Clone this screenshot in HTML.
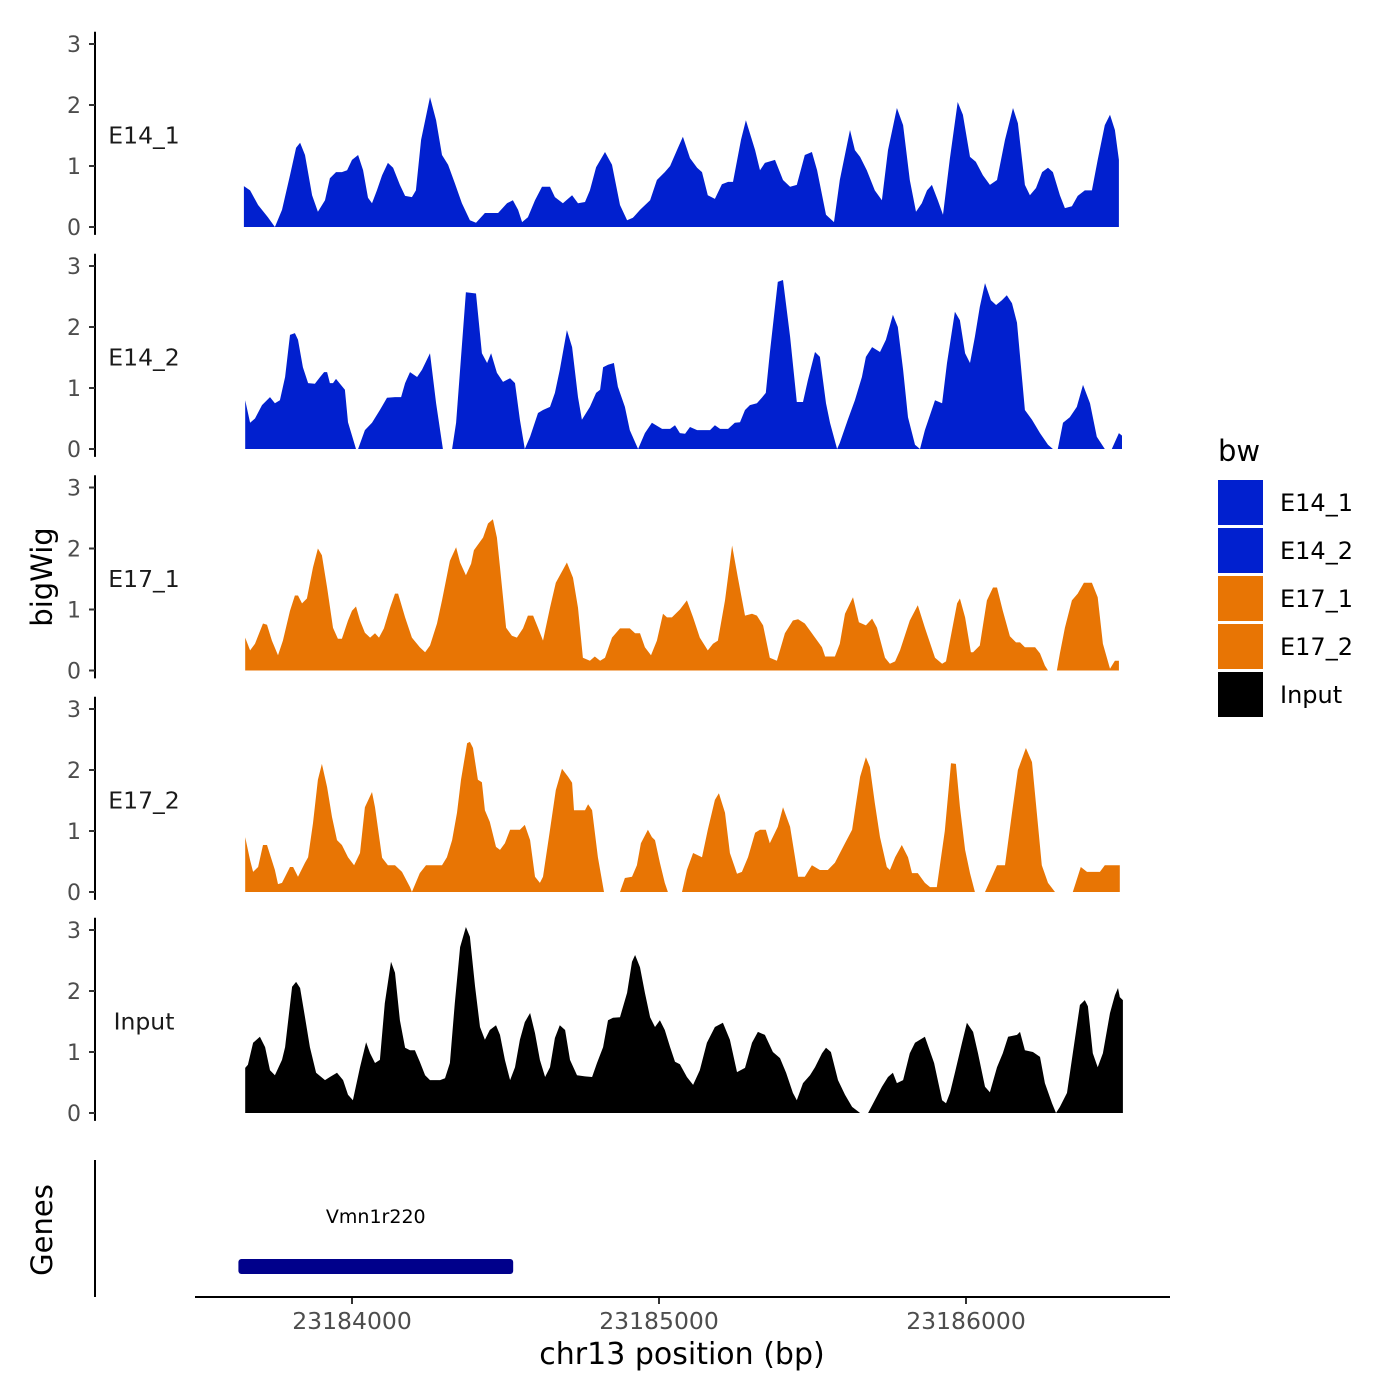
<!DOCTYPE html>
<html><head><meta charset="utf-8"><style>
html,body{margin:0;padding:0;background:#fff;}
svg{display:block;font-family:"DejaVu Sans","Liberation Sans",sans-serif;}
</style></head><body>
<svg id="chart" width="1400" height="1400" viewBox="0 0 1400 1400" xmlns="http://www.w3.org/2000/svg">
<rect width="1400" height="1400" fill="#fff"/>
<g id="tracks"></g>
<g id="axes"></g>
<text x="0" y="0" transform="translate(52,577) rotate(-90)" text-anchor="middle" font-size="29" fill="#000">bigWig</text>
<text x="0" y="0" transform="translate(52,1230) rotate(-90)" text-anchor="middle" font-size="29" fill="#000">Genes</text>
<line x1="95" y1="1160" x2="95" y2="1297" stroke="#000" stroke-width="2"/>
<g id="genes"></g>
<line x1="195" y1="1297" x2="1170" y2="1297" stroke="#000" stroke-width="2"/>
<text x="682" y="1364" text-anchor="middle" font-size="30" fill="#000">chr13 position (bp)</text>
<g id="legend">
<text x="1218" y="461" font-size="29" fill="#000">bw</text>
</g>
</svg>
<script>
// positions: bp relative to 23,184,000
const pos1=[-352,-332,-306,-274,-251,-228,-202,-182,-169,-153,-130,-111,-88,-72,-52,-33,-16,0,20,36,52,65,81,98,117,134,156,173,195,208,225,254,274,293,313,335,358,384,404,433,476,505,524,541,554,573,596,619,645,661,687,717,736,759,775,795,824,847,873,896,915,938,971,993,1019,1036,1062,1078,1101,1124,1140,1159,1182,1205,1225,1241,1267,1283,1313,1329,1345,1378,1404,1427,1449,1475,1498,1515,1544,1570,1589,1622,1638,1655,1677,1703,1726,1746,1775,1795,1817,1837,1856,1873,1889,1908,1925,1947,1973,1990,2013,2032,2055,2078,2101,2127,2153,2169,2192,2208,2228,2248,2267,2283,2306,2322,2345,2364,2387,2410,2429,2452,2469,2485,2498];
const val1=[.67,.6,.36,.16,0,.28,.85,1.3,1.38,1.18,.52,.25,.44,.8,.9,.9,.93,1.1,1.18,.93,.48,.39,.6,.85,1.05,.97,.69,.51,.49,.6,1.43,2.13,1.75,1.18,1.02,.72,.39,.11,.07,.23,.23,.39,.44,.28,.08,.16,.44,.66,.66,.49,.39,.52,.39,.41,.6,.98,1.23,1.02,.36,.11,.15,.28,.44,.77,.9,1.0,1.3,1.48,1.13,.97,.9,.52,.46,.7,.74,.74,1.43,1.75,1.26,.93,1.05,1.1,.77,.66,.69,1.18,1.23,.93,.2,.08,.77,1.59,1.26,1.15,.93,.6,.44,1.26,1.95,1.67,.77,.25,.39,.6,.69,.44,.2,1.1,2.05,1.84,1.15,1.07,.85,.69,.77,1.43,1.95,1.7,.69,.52,.64,.9,.97,.9,.52,.31,.34,.51,.6,.6,1.1,1.67,1.84,1.59,1.1];
const pos2=[-348,-332,-316,-293,-267,-251,-235,-218,-202,-186,-176,-160,-143,-121,-104,-91,-81,-72,-62,-52,-36,-23,-13,13,20,42,65,91,114,140,160,173,189,212,228,254,274,296,326,339,371,404,423,440,453,472,492,515,531,547,563,580,606,622,645,661,677,700,717,736,749,775,795,808,818,834,853,866,889,905,932,954,977,987,1010,1036,1052,1068,1085,1101,1124,1166,1182,1199,1225,1247,1264,1280,1296,1319,1335,1348,1361,1387,1404,1427,1449,1469,1485,1508,1524,1544,1557,1580,1589,1615,1638,1661,1674,1694,1720,1739,1762,1778,1795,1811,1834,1850,1866,1899,1922,1938,1964,1980,1997,2013,2029,2045,2062,2081,2098,2117,2133,2150,2166,2192,2215,2241,2267,2283,2299,2316,2338,2361,2381,2404,2426,2452,2475,2498,2508];
const val2=[.8,.43,.5,.72,.85,.75,.8,1.18,1.87,1.9,1.79,1.34,1.08,1.07,1.18,1.26,1.26,1.08,1.08,1.15,1.05,.97,.44,0,0,.31,.43,.64,.84,.85,.85,1.08,1.26,1.18,1.3,1.57,.75,0,0,.43,2.57,2.55,1.57,1.41,1.57,1.25,1.1,1.16,1.08,.48,0,.2,.59,.64,.69,.92,1.3,1.95,1.67,.85,.48,.69,.92,.97,1.34,1.38,1.41,1.02,.69,.31,0,.26,.43,.4,.33,.33,.39,.26,.25,.36,.31,.31,.39,.33,.33,.43,.44,.64,.72,.75,.84,.92,1.57,2.74,2.77,1.84,.77,.77,1.13,1.59,1.51,.75,.43,0,.1,.48,.8,1.18,1.51,1.67,1.59,1.79,2.2,2.0,1.3,.52,.07,0,.31,.8,.75,1.41,2.25,2.11,1.57,1.41,1.84,2.33,2.72,2.44,2.36,2.44,2.52,2.39,2.07,.64,.48,.26,.07,0,0,.43,.52,.69,1.05,.75,.2,0,0,.26,.22];
const pos3=[-348,-332,-316,-290,-277,-261,-241,-225,-202,-186,-176,-163,-147,-127,-111,-98,-81,-62,-46,-33,-13,0,13,26,42,59,75,88,104,124,140,150,173,195,221,238,254,277,293,319,339,352,371,388,397,427,443,459,472,482,502,521,537,557,573,590,606,622,645,664,700,720,736,752,775,791,808,824,847,873,905,922,938,954,974,993,1013,1026,1042,1068,1091,1111,1133,1159,1176,1192,1215,1238,1257,1280,1303,1319,1339,1361,1384,1410,1436,1453,1475,1498,1531,1541,1573,1589,1606,1632,1651,1674,1694,1710,1736,1752,1769,1785,1817,1843,1866,1899,1922,1935,1948,1971,1980,1997,2016,2023,2045,2068,2088,2101,2120,2143,2163,2176,2192,2225,2241,2257,2267,2296,2306,2322,2345,2364,2384,2410,2429,2446,2469,2485,2498];
const val3=[.54,.33,.44,.77,.75,.49,.25,.49,.98,1.23,1.23,1.1,1.18,1.69,2.0,1.89,1.36,.7,.52,.52,.82,.98,1.05,.82,.62,.54,.61,.54,.69,1.03,1.26,1.26,.87,.54,.38,.3,.41,.77,1.15,1.8,2.02,1.77,1.56,1.75,1.97,2.18,2.41,2.48,2.18,1.69,.7,.57,.54,.69,.9,.9,.7,.49,1.03,1.44,1.77,1.52,1.03,.21,.16,.23,.16,.21,.54,.69,.69,.61,.61,.38,.25,.49,.93,.87,.87,1.0,1.15,.87,.54,.33,.44,.49,1.15,2.05,1.52,.9,.93,.9,.74,.21,.16,.61,.82,.84,.77,.61,.38,.23,.23,.44,.93,1.2,.79,.74,.85,.7,.21,.11,.15,.33,.82,1.07,.7,.21,.11,.15,.49,1.1,1.18,.87,.3,.3,.41,1.15,1.36,1.36,.98,.56,.46,.46,.38,.38,.28,.08,0,0,.28,.7,1.15,1.26,1.44,1.44,1.2,.44,.03,.16,.16];
const pos4=[-348,-332,-322,-306,-290,-277,-251,-241,-228,-202,-192,-176,-153,-143,-127,-111,-98,-81,-65,-49,-33,-13,7,26,42,65,75,98,117,140,163,189,195,221,241,293,309,326,342,355,375,384,394,410,423,433,449,469,482,498,515,547,563,580,596,612,622,645,664,684,704,717,723,759,769,782,801,821,873,889,912,928,941,964,977,987,1003,1019,1029,1075,1091,1111,1140,1159,1182,1195,1215,1231,1254,1270,1290,1313,1329,1348,1361,1387,1404,1427,1443,1453,1475,1498,1524,1550,1573,1606,1629,1642,1655,1674,1687,1703,1720,1742,1752,1769,1791,1811,1824,1843,1866,1883,1905,1931,1951,1967,1980,1997,2013,2029,2062,2101,2127,2150,2169,2195,2215,2234,2247,2267,2290,2348,2374,2394,2436,2452,2495,2501];
const val4=[.9,.52,.33,.41,.77,.77,.36,.13,.15,.41,.41,.25,.48,.57,1.13,1.84,2.1,1.72,1.23,.85,.77,.57,.44,.64,1.39,1.64,1.39,.56,.44,.44,.33,.08,0,.31,.44,.44,.57,.85,1.3,1.84,2.44,2.46,2.36,1.84,1.8,1.34,1.15,.74,.69,.8,1.02,1.02,1.1,.85,.25,.15,.25,1.02,1.67,2.02,1.89,1.79,1.34,1.34,1.44,1.34,.57,0,0,.23,.25,.44,.8,1.02,.9,.85,.48,.15,0,0,.36,.64,.57,1.02,1.51,1.62,1.3,.64,.3,.33,.57,.97,1.02,1.02,.8,1.07,1.39,1.07,.57,.25,.25,.44,.36,.36,.48,.8,1.02,1.46,1.89,2.21,2.05,1.46,.9,.41,.36,.57,.77,.57,.31,.31,.15,.08,.08,1.0,2.11,2.1,1.4,.69,.31,0,0,.44,.44,1.3,2.0,2.36,2.13,1.13,.44,.15,0,0,.41,.33,.33,.44,.44,.44];
const pos5=[-348,-339,-322,-300,-283,-267,-251,-228,-218,-195,-182,-169,-153,-137,-117,-88,-72,-49,-29,-13,3,26,46,59,75,91,107,127,140,156,173,189,205,221,238,254,287,303,319,335,352,371,384,401,417,433,449,469,482,498,515,531,547,563,580,596,612,629,645,661,677,694,710,733,759,782,798,818,834,850,873,896,912,922,938,954,971,987,1003,1019,1036,1052,1068,1091,1111,1133,1156,1182,1208,1231,1254,1280,1303,1322,1345,1371,1394,1414,1436,1449,1469,1492,1508,1531,1544,1560,1583,1606,1629,1655,1681,1703,1726,1746,1762,1775,1795,1817,1834,1866,1896,1922,1935,1948,1964,1987,2003,2023,2039,2062,2078,2101,2120,2137,2166,2176,2192,2218,2241,2257,2280,2293,2306,2329,2348,2371,2387,2397,2413,2429,2446,2469,2485,2495,2501,2511];
const val5=[.74,.79,1.15,1.25,1.08,.7,.62,.87,1.08,2.07,2.15,2.05,1.57,1.08,.66,.54,.59,.66,.54,.3,.21,.75,1.16,.98,.82,.87,1.8,2.48,2.3,1.52,1.07,1.03,1.03,.84,.62,.54,.54,.57,.82,1.8,2.72,3.05,2.89,2.07,1.41,1.2,1.36,1.44,1.28,.87,.54,.75,1.2,1.49,1.64,1.31,.87,.59,.75,1.23,1.44,1.36,.87,.62,.6,.59,.82,1.08,1.52,1.56,1.57,1.97,2.48,2.59,2.39,1.97,1.57,1.41,1.52,1.36,1.08,.84,.8,.59,.46,.7,1.15,1.41,1.48,1.2,.67,.74,1.15,1.33,1.28,1.0,.9,.66,.33,.21,.49,.62,.75,.98,1.07,1.0,.54,.3,.1,0,0,.21,.43,.59,.66,.49,.54,.98,1.15,1.25,.82,.21,.16,.33,.66,1.15,1.48,1.33,.98,.43,.34,.75,.98,1.25,1.28,1.33,1.03,1.0,.92,.49,.16,0,.1,.33,.98,1.77,1.85,1.75,.98,.75,.98,1.64,1.93,2.05,1.9,1.85];
const trackNames=["E14_1","E14_2","E17_1","E17_2","Input"];
const trackColors=["#0120CF","#0120CF","#E87504","#E87504","#000000"];
const yTicks=[0,1,2,3];
const xTicks=[23184000,23185000,23186000];
const xTickLabels=["23184000","23185000","23186000"];
const geneName=["Vmn1r220"];
const geneStart=[23183630];
const geneEnd=[23184525];

const NS="http://www.w3.org/2000/svg";
const REF=23184000;
function xScale(bp){return 352+(bp-REF)*0.307;}
const panelBase=[227,449,670.5,892,1113];
function yScale(p,v){return panelBase[p]-v*61;}
function mk(tag,attrs,parent){const e=document.createElementNS(NS,tag);for(const k in attrs)e.setAttribute(k,attrs[k]);parent.appendChild(e);return e;}

const posAll=[pos1,pos2,pos3,pos4,pos5];
const valAll=[val1,val2,val3,val4,val5];
const tracksG=document.getElementById('tracks');
const axesG=document.getElementById('axes');
for(let p=0;p<5;p++){
  const P=posAll[p],V=valAll[p];const n=Math.min(P.length,V.length);
  const b=yScale(p,0);
  let d="M"+xScale(REF+P[0]).toFixed(1)+","+b;
  for(let i=0;i<n;i++)d+=" L"+xScale(REF+P[i]).toFixed(1)+","+yScale(p,V[i]).toFixed(1);
  d+=" L"+xScale(REF+P[n-1]).toFixed(1)+","+b+" Z";
  const path=mk('path',{d:d,fill:trackColors[p]},tracksG);
  
  
  const ax=mk('line',{x1:95,x2:95,y1:yScale(p,-0.13),y2:yScale(p,3.2),stroke:'#000','stroke-width':2},axesG);
  
  
  for(const t of yTicks){
    const tl=mk('line',{x1:89,x2:95,y1:yScale(p,t),y2:yScale(p,t),stroke:'#333','stroke-width':2},axesG);
    
    
    const tx=mk('text',{x:81,y:yScale(p,t)+8,'text-anchor':'end','font-size':22,fill:'#4d4d4d'},axesG);
    
    
    tx.textContent=t;
  }
  const lab=mk('text',{x:144,y:yScale(p,1.5)+8,'text-anchor':'middle','font-size':23.5,fill:'#1a1a1a'},axesG);
  
  
  lab.textContent=trackNames[p];
}
for(let i=0;i<xTicks.length;i++){
  const x=xScale(xTicks[i]);
  const tl=mk('line',{x1:x,x2:x,y1:1297,y2:1304,stroke:'#333','stroke-width':2},axesG);
  
  
  const tx=mk('text',{x:x,y:1329,'text-anchor':'middle','font-size':23.5,fill:'#4d4d4d'},axesG);
  
  
  tx.textContent=xTickLabels[i];
}
const genesG=document.getElementById('genes');
for(let i=0;i<geneName.length;i++){
  const x1=xScale(geneStart[i]),x2=xScale(geneEnd[i]);
  const r=mk('rect',{x:x1,y:1259,width:x2-x1,height:15,rx:3,fill:'#00008B'},genesG);
  
  
  const t=mk('text',{x:(x1+x2)/2,y:1223,'text-anchor':'middle','font-size':19,fill:'#000'},genesG);
  
  
  t.textContent=geneName[i];
}
const legG=document.getElementById('legend');
for(let i=0;i<5;i++){
  const y=480+i*48;
  const r=mk('rect',{x:1218,y:y,width:45,height:45,fill:trackColors[i]},legG);
  
  
  const t=mk('text',{x:1280,y:y+31,'font-size':24,fill:'#000'},legG);
  
  
  t.textContent=trackNames[i];
}
</script>
</body></html>
